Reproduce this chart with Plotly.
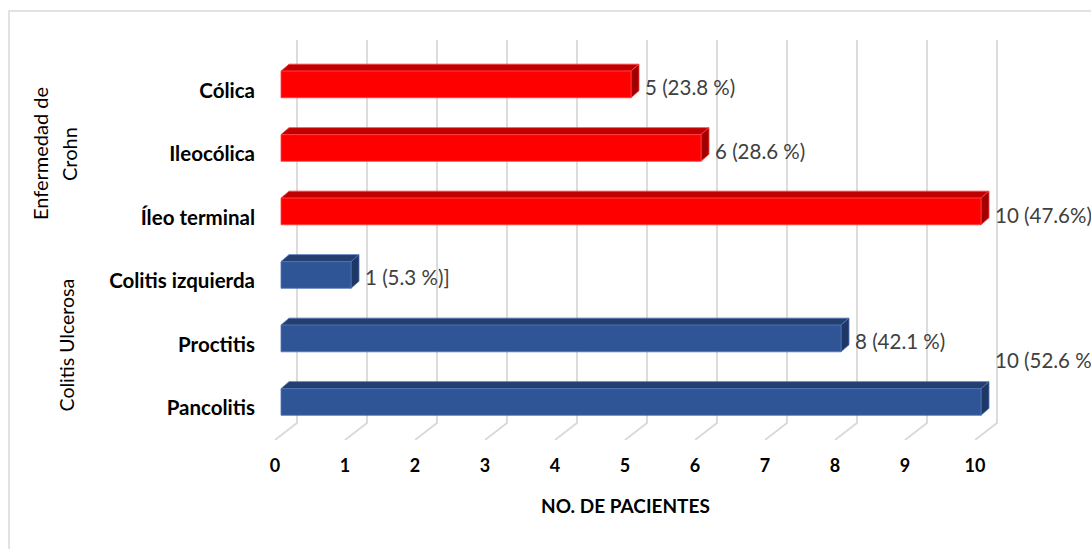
import plotly.graph_objects as go

# ---------------- data ----------------
categories = ["Pancolitis", "Proctitis", "Colitis izquierda",
              "Íleo terminal", "Ileocólica", "Cólica"]
values = [10, 8, 1, 10, 6, 5]
groups = ["Colitis Ulcerosa", "Colitis Ulcerosa", "Colitis Ulcerosa",
          "Enfermedad de Crohn", "Enfermedad de Crohn", "Enfermedad de Crohn"]
value_labels = ["10 (52.6 %)", "8 (42.1 %)", "1 (5.3 %)]",
                "10 (47.6%)", "6 (28.6 %)", "5 (23.8 %)"]
x_ticks = list(range(0, 11))
x_title = "NO. DE PACIENTES"

# ---------------- style ----------------
FONT = "Lato"
FRONT = {"Colitis Ulcerosa": "#2F5597", "Enfermedad de Crohn": "#FF0000"}
TOP = {"Colitis Ulcerosa": "#223F70", "Enfermedad de Crohn": "#C00000"}
SIDE = {"Colitis Ulcerosa": "#1E3764", "Enfermedad de Crohn": "#A00000"}
EDGE = {"Colitis Ulcerosa": "#4F74B5", "Enfermedad de Crohn": "#FF4040"}
GRID = "#d9d9d9"

D0 = 0.0857      # bar front face depth offset (x units)
DX = 0.1143      # bar depth (x units)
DY = 0.110       # bar depth (y units)
H = 0.42         # bar front face height
YOFF = 0.095     # bar centre above category tick
WALL_DX = 0.314  # back wall offset (x units)
Y_MIN, Y_MAX = -0.504, 5.795
WALL_Y = -0.236
LABEL_DY = [0.756, 0.06, 0.068, 0.04, 0.052, 0.06]  # manual label placement

fig = go.Figure()

# back wall gridlines + floor lines
gx, gy = [], []
for k in x_ticks:
    gx += [k, k + WALL_DX, k + WALL_DX, None]
    gy += [Y_MIN, WALL_Y, Y_MAX, None]
fig.add_trace(go.Scatter(x=gx, y=gy, mode="lines",
                         line=dict(color=GRID, width=1.8),
                         hoverinfo="skip", showlegend=False, cliponaxis=False))

# 3D bars
for i, (v, g) in enumerate(zip(values, groups)):
    yb = i + YOFF - H / 2
    yt = i + YOFF + H / 2
    x0 = D0
    x1 = v + D0
    # top face
    fig.add_trace(go.Scatter(
        x=[x0, x1, x1 + DX, x0 + DX, x0],
        y=[yt, yt, yt + DY, yt + DY, yt],
        fill="toself", fillcolor=TOP[g], mode="lines",
        line=dict(color=EDGE[g], width=0.8),
        hoverinfo="skip", showlegend=False))
    # side face
    fig.add_trace(go.Scatter(
        x=[x1, x1, x1 + DX, x1 + DX, x1],
        y=[yb, yt, yt + DY, yb + DY, yb],
        fill="toself", fillcolor=SIDE[g], mode="lines",
        line=dict(color=EDGE[g], width=0.8),
        hoverinfo="skip", showlegend=False))
    # front face
    fig.add_trace(go.Scatter(
        x=[x0, x1, x1, x0, x0],
        y=[yb, yb, yt, yt, yb],
        fill="toself", fillcolor=FRONT[g], mode="lines",
        line=dict(color=EDGE[g], width=0.8),
        hoverinfo="skip", showlegend=False))

annotations = []
# value labels
for i, (v, lab) in enumerate(zip(values, value_labels)):
    annotations.append(dict(
        x=v + D0 + DX + 0.06, y=i + LABEL_DY[i], xref="x", yref="y",
        text=lab, showarrow=False, xanchor="left", yanchor="middle",
        font=dict(family=FONT, size=20.5, color="#404040")))

# group labels
annotations.append(dict(
    x=-0.2744, y=4, xref="paper", yref="y", text="Enfermedad de",
    textangle=-90, showarrow=False, xanchor="center", yanchor="middle",
    font=dict(family=FONT, size=20, color="#000000")))
annotations.append(dict(
    x=-0.2386, y=4, xref="paper", yref="y", text="Crohn",
    textangle=-90, showarrow=False, xanchor="center", yanchor="middle",
    font=dict(family=FONT, size=20, color="#000000")))
annotations.append(dict(
    x=-0.2411, y=1, xref="paper", yref="y", text="Colitis Ulcerosa",
    textangle=-90, showarrow=False, xanchor="center", yanchor="middle",
    font=dict(family=FONT, size=19.5, color="#000000")))

# axis title
annotations.append(dict(
    x=(x_ticks[0] + x_ticks[-1]) / 2, y=-0.1625, xref="x", yref="paper",
    text=x_title, showarrow=False, xanchor="center", yanchor="middle",
    font=dict(family=FONT, size=19, color="#000000", weight="bold")))

fig.update_layout(
    width=1091, height=549, autosize=False,
    margin=dict(l=262, r=20, t=40, b=109),
    paper_bgcolor="white", plot_bgcolor="white",
    showlegend=False,
    annotations=annotations,
    shapes=[dict(type="rect", xref="paper", yref="paper",
                 x0=-0.3127, x1=1.2, y0=-0.4, y1=1.0725,
                 line=dict(color=GRID, width=1.5), layer="below")],
    xaxis=dict(range=[-13 / 70, 796 / 70], showgrid=False, zeroline=False,
               showline=False, tickvals=x_ticks,
               ticktext=[str(t) for t in x_ticks], ticks="",
               ticklabelstandoff=13,
               tickfont=dict(family=FONT, size=18, color="#000000",
                             weight="bold")),
    yaxis=dict(range=[Y_MIN, Y_MAX], showgrid=False, zeroline=False,
               showline=False, tickvals=list(range(len(categories))),
               ticktext=categories, ticks="", ticklabelstandoff=6,
               tickfont=dict(family=FONT, size=20.5, color="#000000",
                             weight="bold")),
)

fig.write_html("out.html",
               config={"displayModeBar": False},
               post_script="document.body.style.margin='0px';"
                           "document.body.style.overflow='hidden';")
